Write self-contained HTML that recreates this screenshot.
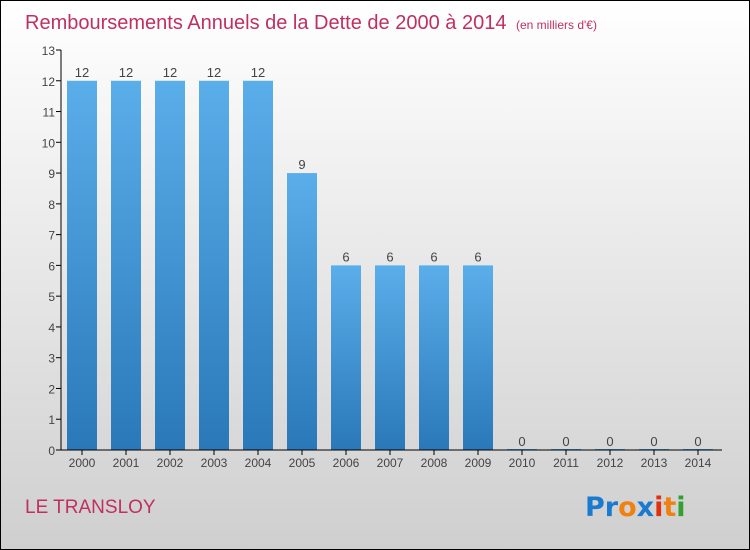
<!DOCTYPE html>
<html><head><meta charset="utf-8"><style>
body{margin:0}
#c{width:748px;height:548px;border:1px solid #000;background:linear-gradient(#fff,#cfcfcf);position:relative;font-family:"Liberation Sans",sans-serif;overflow:hidden}
</style></head><body>
<div id="c">
<svg id="s" width="748" height="548" style="position:absolute;left:0;top:0">
<defs><linearGradient id="g" x1="0" y1="0" x2="0" y2="1"><stop offset="0" stop-color="#5aaeea"/><stop offset="1" stop-color="#2a78b8"/></linearGradient></defs>
<text x="24" y="28" font-size="20" fill="#c0305f">Remboursements Annuels de la Dette de 2000 à 2014 <tspan font-size="12" dx="4">(en milliers d'€)</tspan></text>
<text x="24" y="512" font-size="19" fill="#c0305f">LE TRANSLOY</text>
<text x="584" y="515" font-size="27" font-weight="bold" font-family="DejaVu Sans,sans-serif"><tspan fill="#1a7ad0">Pr</tspan><tspan fill="#f08010">o</tspan><tspan fill="#1a7ad0">x</tspan><tspan fill="#e03010">i</tspan><tspan fill="#f08010">t</tspan><tspan fill="#30a030">i</tspan></text>
<g id="plot"></g>
</svg>
</div>
<script>
const years=["2000","2001","2002","2003","2004","2005","2006","2007","2008","2009","2010","2011","2012","2013","2014"];
const values=[12,12,12,12,12,9,6,6,6,6,0,0,0,0,0];
const yTicks=[0,1,2,3,4,5,6,7,8,9,10,11,12,13];
const NS="http://www.w3.org/2000/svg";
const g=document.getElementById('plot');
const y=v=>449-v*(400/13);
const x=i=>81+i*44;
function mk(t,a,p){const e=document.createElementNS(NS,t);for(const k in a)e.setAttribute(k,a[k]);(p||g).appendChild(e);return e;}
yTicks.forEach(v=>{
 const t=mk('text',{x:54,y:y(v)+5,'font-size':12,fill:'#444','text-anchor':'end'});t.textContent=v;
 
 
 mk('line',{x1:55,x2:60,y1:y(v),y2:y(v),stroke:'#000'});
});
years.forEach((yr,i)=>{
 const v=values[i];
 const r=mk('rect',{x:x(i)-15,y:y(v)-(v?0:1),width:30,height:Math.max(y(0)-y(v),1),fill:'url(#g)'});
 
 
 const l=mk('text',{x:x(i),y:y(v)-4,'font-size':13,fill:'#444','text-anchor':'middle'});l.textContent=v;
 
 
 mk('line',{x1:x(i),x2:x(i),y1:449,y2:454,stroke:'#000'});
 const t=mk('text',{x:x(i),y:466,'font-size':12,fill:'#444','text-anchor':'middle'});t.textContent=yr;
 
 
});
const ya=mk('line',{x1:60,x2:60,y1:y(13),y2:449,stroke:'#000'});


const xa=mk('line',{x1:60,x2:721,y1:449,y2:449,stroke:'#000'});


</script>
</body></html>
